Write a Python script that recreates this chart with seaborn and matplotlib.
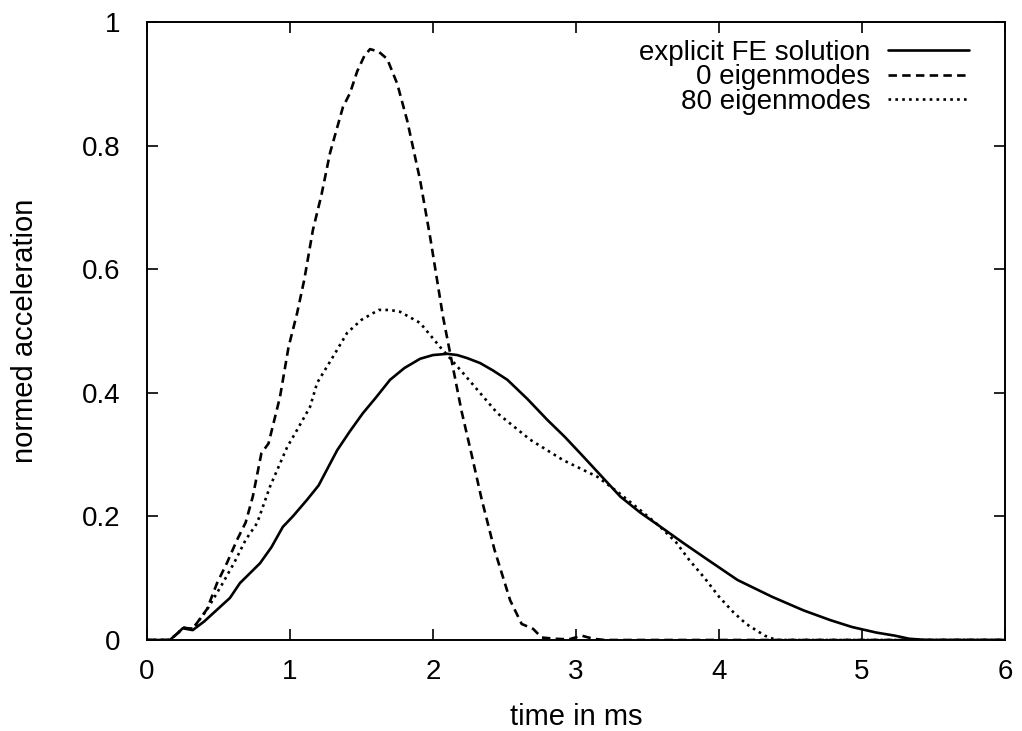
import matplotlib
matplotlib.use('Agg')
import matplotlib.pyplot as plt
import numpy as np
import pandas as pd
import seaborn as sns

# explicit FE solution
t_fe = [0, 0.16, 0.22, 0.25, 0.32, 0.4, 0.49, 0.58, 0.65, 0.72, 0.79, 0.87, 0.95, 1.02,
        1.12, 1.2, 1.33, 1.42, 1.51, 1.6, 1.7, 1.8, 1.91, 2.0, 2.1, 2.17, 2.24, 2.33, 2.42,
        2.52, 2.66, 2.80, 2.92, 3.03, 3.15, 3.31, 3.45, 3.58, 3.75, 3.92, 4.13, 4.37, 4.59,
        4.78, 4.93, 5.1, 5.23, 5.33, 5.45, 6.0]
a_fe = [0, 0, 0.012, 0.019, 0.016, 0.03, 0.049, 0.068, 0.092, 0.108, 0.124, 0.15, 0.183, 0.2,
        0.227, 0.25, 0.307, 0.338, 0.367, 0.392, 0.421, 0.44, 0.455, 0.461, 0.463, 0.461, 0.456,
        0.448, 0.436, 0.421, 0.39, 0.356, 0.329, 0.302, 0.272, 0.232, 0.206, 0.185, 0.157, 0.130,
        0.097, 0.070, 0.048, 0.032, 0.021, 0.012, 0.007, 0.002, 0, 0]

# 0 eigenmodes
t_0 = [0, 0.16, 0.22, 0.25, 0.32, 0.42, 0.49, 0.56, 0.63, 0.69, 0.74, 0.80, 0.85, 0.93, 0.99,
       1.05, 1.10, 1.16, 1.22, 1.28, 1.37, 1.42, 1.47, 1.52, 1.56, 1.62, 1.68, 1.75, 1.82, 1.91,
       1.98, 2.07, 2.12, 2.20, 2.27, 2.34, 2.43, 2.54, 2.62, 2.70, 2.76, 2.85, 2.95, 3.04, 3.12,
       3.2, 6.0]
a_0 = [0, 0, 0.012, 0.02, 0.018, 0.05, 0.092, 0.125, 0.162, 0.19, 0.232, 0.302, 0.318, 0.393,
       0.474, 0.529, 0.583, 0.663, 0.72, 0.788, 0.862, 0.885, 0.92, 0.945, 0.956, 0.952, 0.94,
       0.9, 0.84, 0.744, 0.652, 0.523, 0.464, 0.37, 0.30, 0.228, 0.146, 0.064, 0.026, 0.018,
       0.004, 0.002, 0.001, 0.007, 0.002, 0, 0]

# 80 eigenmodes
t_80 = [0, 0.16, 0.22, 0.25, 0.32, 0.42, 0.53, 0.61, 0.69, 0.77, 0.86, 0.98, 1.05, 1.14, 1.19,
        1.30, 1.40, 1.50, 1.62, 1.70, 1.77, 1.91, 2.05, 2.21, 2.45, 2.68, 2.91, 3.15, 3.30, 3.45,
        3.58, 3.70, 3.79, 3.90, 4.0, 4.10, 4.19, 4.32, 4.4, 6.0]
a_80 = [0, 0, 0.012, 0.02, 0.018, 0.049, 0.092, 0.125, 0.162, 0.189, 0.248, 0.312, 0.340, 0.377,
        0.416, 0.458, 0.497, 0.518, 0.534, 0.534, 0.531, 0.513, 0.474, 0.432, 0.367, 0.324, 0.291,
        0.264, 0.238, 0.210, 0.185, 0.158, 0.130, 0.100, 0.07, 0.045, 0.026, 0.007, 0, 0]

labels = ['explicit FE solution', '0 eigenmodes', '80 eigenmodes']
x_ticks = [0, 1, 2, 3, 4, 5, 6]
y_ticks = [0, 0.2, 0.4, 0.6, 0.8, 1]
y_ticklabels = ['0', '0.2', '0.4', '0.6', '0.8', '1']


def main():
    sns.set_theme(style='ticks')
    plt.rcParams['font.family'] = ['Liberation Sans', 'DejaVu Sans']
    plt.rcParams['text.color'] = 'black'
    plt.rcParams['axes.labelcolor'] = 'black'

    df = pd.concat([
        pd.DataFrame({'t': t_fe, 'a': a_fe, 'series': labels[0]}),
        pd.DataFrame({'t': t_0, 'a': a_0, 'series': labels[1]}),
        pd.DataFrame({'t': t_80, 'a': a_80, 'series': labels[2]}),
    ])

    fig = plt.figure(figsize=(10.22, 7.31), dpi=100)
    ax = fig.add_axes([0.1438, 0.1245, 0.8396, 0.8455])

    styles = {labels[0]: '-', labels[1]: (0, (3.2, 2.0)), labels[2]: (0, (1.0, 1.6))}
    for lab in labels:
        sub = df[df['series'] == lab]
        sns.lineplot(data=sub, x='t', y='a', ax=ax, color='black', lw=1.9,
                     linestyle=styles[lab], label=lab, estimator=None, sort=False)

    ax.set_xlim(0, 6)
    ax.set_ylim(0, 1)
    ax.set_xticks(x_ticks)
    ax.set_xticklabels([str(v) for v in x_ticks])
    ax.set_yticks(y_ticks)
    ax.set_yticklabels(y_ticklabels)
    ax.tick_params(direction='in', length=8, width=1.2, labelsize=20,
                   top=True, right=True, colors='black')
    ax.tick_params(axis='y', pad=19)
    ax.tick_params(axis='x', pad=14)
    for sp in ax.spines.values():
        sp.set_visible(True)
        sp.set_linewidth(1.4)
        sp.set_color('black')

    ax.set_xlabel('time in ms', fontsize=21, labelpad=13, color='black')
    ax.set_ylabel('normed acceleration', fontsize=21, labelpad=31, color='black')

    leg = ax.legend(loc='upper right', bbox_to_anchor=(0.974, 0.993), frameon=False,
                    markerfirst=False, fontsize=20, handlelength=2.9, handletextpad=0.65,
                    labelspacing=-0.06, borderpad=0)
    for txt in leg.get_texts():
        txt.set_color('black')

    fig.savefig('out.png', dpi=100)
    plt.close(fig)


if __name__ == '__main__':
    main()
